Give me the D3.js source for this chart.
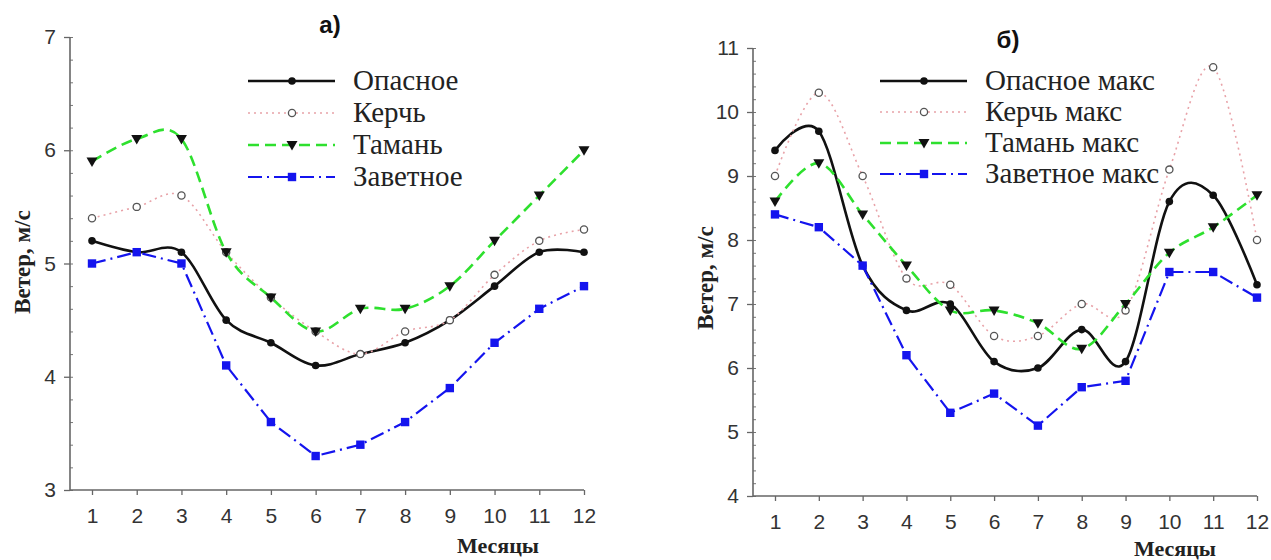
<!DOCTYPE html>
<html>
<head>
<meta charset="utf-8">
<script src="https://cdn.jsdelivr.net/npm/d3@7"></script>
<style>
  body { margin: 0; background: #fff; }
</style>
</head>
<body>
<svg id="chart" width="1271" height="560"></svg>
<script>
var months = [1, 2, 3, 4, 5, 6, 7, 8, 9, 10, 11, 12];

// панель а) средний ветер
var opasnoe   = [5.2, 5.1, 5.1, 4.5, 4.3, 4.1, 4.2, 4.3, 4.5, 4.8, 5.1, 5.1];
var kerch     = [5.4, 5.5, 5.6, 5.1, 4.7, 4.4, 4.2, 4.4, 4.5, 4.9, 5.2, 5.3];
var taman     = [5.9, 6.1, 6.1, 5.1, 4.7, 4.4, 4.6, 4.6, 4.8, 5.2, 5.6, 6.0];
var zavetnoe  = [5.0, 5.1, 5.0, 4.1, 3.6, 3.3, 3.4, 3.6, 3.9, 4.3, 4.6, 4.8];
var namesA    = ["Опасное", "Керчь", "Тамань", "Заветное"];
var yTicksA   = [3, 4, 5, 6, 7];

// панель б) максимальный ветер
var opasnoeMax  = [9.4, 9.7, 7.6, 6.9, 7.0, 6.1, 6.0, 6.6, 6.1, 8.6, 8.7, 7.3];
var kerchMax    = [9.0, 10.3, 9.0, 7.4, 7.3, 6.5, 6.5, 7.0, 6.9, 9.1, 10.7, 8.0];
var tamanMax    = [8.6, 9.2, 8.4, 7.6, 6.9, 6.9, 6.7, 6.3, 7.0, 7.8, 8.2, 8.7];
var zavetnoeMax = [8.4, 8.2, 7.6, 6.2, 5.3, 5.6, 5.1, 5.7, 5.8, 7.5, 7.5, 7.1];
var namesB      = ["Опасное макс", "Керчь макс", "Тамань макс", "Заветное макс"];
var yTicksB     = [4, 5, 6, 7, 8, 9, 10, 11];

var serif = "'Liberation Serif', 'Times New Roman', serif";
var sans = "'Liberation Sans', Arial, sans-serif";

var styles = [
    {stroke: "#111", width: 2.6, dash: null, marker: "dot", smooth: true},
    {stroke: "#e8a2a8", width: 1.6, dash: "2,4", marker: "open", smooth: true},
    {stroke: "#2ee02e", width: 2.6, dash: "11,6", marker: "tri", smooth: true},
    {stroke: "#1414ee", width: 2.2, dash: "14,5,2,5", marker: "sq", smooth: false}
];

var svg = d3.select("#chart");

function drawMarker(g, kind, x, y) {
    if (kind == "dot") {
        g.append("circle").attr("cx", x).attr("cy", y).attr("r", 3.8).attr("fill", "#111");
    } else if (kind == "open") {
        g.append("circle").attr("cx", x).attr("cy", y).attr("r", 3.6)
            .attr("fill", "#fff").attr("stroke", "#555").attr("stroke-width", 1.3);
    } else if (kind == "tri") {
        g.append("path").attr("d", "M" + (x - 5.5) + "," + (y - 4) + "L" + (x + 5.5) + "," + (y - 4) + "L" + x + "," + (y + 5.5) + "Z")
            .attr("fill", "#111");
    } else {
        g.append("rect").attr("x", x - 4.2).attr("y", y - 4.2).attr("width", 8.4).attr("height", 8.4).attr("fill", "#1414ee");
    }
}

var drawPanel = function(cfg) {
    var x = d3.scaleLinear().domain([1, 12]).range([cfg.x1, cfg.x12]);
    var y = d3.scaleLinear().domain(cfg.yDomain).range([cfg.yBottom, cfg.yTop]);
    var g = svg.append("g");

    // оси
    var minor = d3.range(cfg.yDomain[0], cfg.yDomain[1] + 0.001, 0.2);
    g.append("g")
        .attr("transform", "translate(" + cfg.axisX + ",0)")
        .call(d3.axisRight(y).tickValues(minor).tickSize(3).tickFormat(""))
        .call(function(s) { s.select(".domain").remove(); s.selectAll("line").attr("stroke", "#777"); });
    var yAxis = g.append("g")
        .attr("transform", "translate(" + cfg.axisX + ",0)")
        .call(d3.axisLeft(y).tickValues(cfg.yTicks).tickSize(6).tickPadding(8).tickFormat(d3.format("d")));
    yAxis.select(".domain").attr("stroke", "#666").attr("stroke-width", 1.6).attr("d", "M0," + cfg.yBottom + "V" + cfg.yTop);
    yAxis.selectAll("line").attr("stroke", "#666").attr("stroke-width", 1.3);

    var xAxis = g.append("g")
        .attr("transform", "translate(0," + cfg.yBottom + ")")
        .call(d3.axisBottom(x).tickValues(months).tickSize(5).tickPadding(13).tickFormat(d3.format("d")));
    xAxis.select(".domain").attr("stroke", "#666").attr("stroke-width", 1.6).attr("d", "M" + cfg.axisX + ",0H" + cfg.x12);
    xAxis.selectAll("line").attr("stroke", "#666").attr("stroke-width", 1.3);

    g.selectAll(".tick text")
        .attr("font-family", sans).attr("font-size", 21).attr("fill", "#333");

    // линии
    cfg.series.forEach(function(vals, i) {
        var st = styles[i];
        var line = d3.line()
            .x(function(d, j) { return x(months[j]); })
            .y(function(d) { return y(d); })
            .curve(st.smooth ? d3.curveCardinal.tension(0) : d3.curveLinear);
        g.append("path").datum(vals)
            .attr("d", line)
            .attr("fill", "none")
            .attr("stroke", st.stroke)
            .attr("stroke-width", st.width)
            .attr("stroke-dasharray", st.dash);
    });
    cfg.series.forEach(function(vals, i) {
        vals.forEach(function(v, j) { drawMarker(g, styles[i].marker, x(months[j]), y(v)); });
    });

    // легенда
    var leg = g.append("g");
    cfg.names.forEach(function(name, i) {
        var ly = cfg.legY + i * cfg.legStep;
        var st = styles[i];
        leg.append("line")
            .attr("x1", cfg.legX).attr("x2", cfg.legX + 87)
            .attr("y1", ly).attr("y2", ly)
            .attr("stroke", st.stroke).attr("stroke-width", st.width)
            .attr("stroke-dasharray", st.dash);
        drawMarker(leg, st.marker, cfg.legX + 44, ly);
        leg.append("text").attr("x", cfg.legX + 105).attr("y", ly + 9)
            .attr("font-family", serif).attr("font-size", 29).attr("fill", "#222")
            .text(name);
    });

    // подписи
    g.append("text").attr("x", cfg.titleX).attr("y", cfg.titleY)
        .attr("font-family", sans).attr("font-weight", "bold").attr("font-size", 24).attr("fill", "#111")
        .attr("text-anchor", "middle").text(cfg.title);
    g.append("text").attr("x", cfg.xLabX).attr("y", cfg.xLabY)
        .attr("font-family", serif).attr("font-weight", "bold").attr("font-size", 22).attr("fill", "#222")
        .attr("text-anchor", "middle").text("Месяцы");
    g.append("text")
        .attr("transform", "translate(" + cfg.yLabX + "," + cfg.yLabY + ") rotate(-90)")
        .attr("font-family", serif).attr("font-weight", "bold").attr("font-size", 23).attr("fill", "#222")
        .attr("text-anchor", "middle").text("Ветер, м/с");
};

drawPanel({
    x1: 92, x12: 584, axisX: 70, yBottom: 490, yTop: 37, yDomain: [3, 7], yTicks: yTicksA,
    series: [opasnoe, kerch, taman, zavetnoe], names: namesA,
    legX: 248, legY: 81, legStep: 32,
    title: "а)", titleX: 330, titleY: 33,
    xLabX: 498, xLabY: 553, yLabX: 30, yLabY: 262
});
drawPanel({
    x1: 775, x12: 1257, axisX: 753, yBottom: 496, yTop: 48, yDomain: [4, 11], yTicks: yTicksB,
    series: [opasnoeMax, kerchMax, tamanMax, zavetnoeMax], names: namesB,
    legX: 880, legY: 81, legStep: 31,
    title: "б)", titleX: 1008, titleY: 48,
    xLabX: 1175, xLabY: 556, yLabX: 713, yLabY: 278
});
</script>
</body>
</html>
